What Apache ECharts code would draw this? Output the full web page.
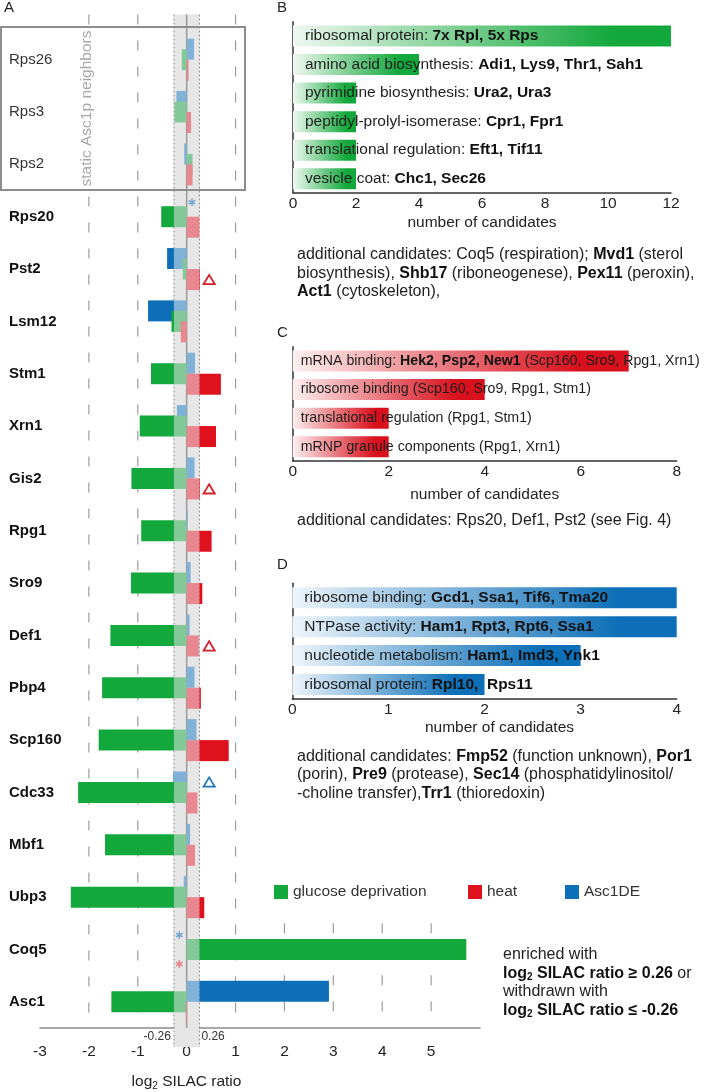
<!DOCTYPE html>
<html>
<head>
<meta charset="utf-8">
<title>Asc1p neighbours - SILAC ratios</title>
<script src="https://cdn.jsdelivr.net/npm/echarts@6.0.0/dist/echarts.min.js"></script>
<style>
  html, body { margin: 0; padding: 0; background: #fff; }
  #chart { width: 706px; height: 1092px; }
</style>
</head>
<body>
<div id="chart"></div>
<script>
// panel A: log2 SILAC ratio per protein, one lane per condition
var genes = ['Rps26', 'Rps3', 'Rps2', 'Rps20', 'Pst2', 'Lsm12', 'Stm1', 'Xrn1', 'Gis2', 'Rpg1',
  'Sro9', 'Def1', 'Pbp4', 'Scp160', 'Cdc33', 'Mbf1', 'Ubp3', 'Coq5', 'Asc1'];
var staticGenes = ['Rps26', 'Rps3', 'Rps2'];
var asc1deRatios = [0.15, -0.21, -0.05, null, -0.40, -0.79, 0.17, -0.20, 0.16, 0.02,
  0.08, 0.06, 0.16, 0.20, -0.27, 0.07, -0.06, null, 2.91];
var glucoseRatios = [-0.10, -0.25, 0.12, -0.52, -0.08, -0.31, -0.73, -0.96, -1.13, -0.93,
  -1.14, -1.56, -1.73, -1.80, -2.22, -1.67, -2.37, 5.72, -1.54];
var heatRatios = [0.04, 0.09, 0.12, 0.26, 0.27, -0.12, 0.70, 0.60, 0.27, 0.51,
  0.32, 0.25, 0.29, 0.86, 0.22, 0.17, 0.36, null, -0.02];
var threshold = 0.26;

// significance marks next to the bars
var triangleGenes = ['Pst2', 'Gis2', 'Def1', 'Cdc33'];
var triangleLanes = ['heat', 'heat', 'heat', 'Asc1DE'];
var triangleRatios = [0.46, 0.46, 0.46, 0.46];
var asteriskGenes = ['Rps20', 'Coq5', 'Coq5'];
var asteriskLanes = ['Asc1DE', 'Asc1DE', 'heat'];
var asteriskRatios = [0.11, -0.15, -0.15];

// dashed guides: the first ones run the whole height, the others only under the legend
var fullGridTicks = [-2, -1, 1];
var lowerGridTicks = [2, 3, 4, 5];

// panel B: glucose deprivation
var bCategories = ['ribosomal protein', 'amino acid biosynthesis', 'pyrimidine biosynthesis',
  'peptidyl-prolyl-isomerase', 'translational regulation', 'vesicle coat'];
var bGenes = ['7x Rpl, 5x Rps', 'Adi1, Lys9, Thr1, Sah1', 'Ura2, Ura3', 'Cpr1, Fpr1', 'Eft1, Tif11', 'Chc1, Sec26'];
var bCounts = [12, 4, 2, 2, 2, 2];

// panel C: heat
var cCategories = ['mRNA binding', 'ribosome binding', 'translational regulation', 'mRNP granule components'];
var cBold = ['Hek2, Psp2, New1', '', '', ''];
var cOther = ['(Scp160, Sro9, Rpg1, Xrn1)', '(Scp160, Sro9, Rpg1, Stm1)', '(Rpg1, Stm1)', '(Rpg1, Xrn1)'];
var cCounts = [7, 4, 2, 2];

// panel D: Asc1 deletion
var dCategories = ['ribosome binding', 'NTPase activity', 'nucleotide metabolism', 'ribosomal protein'];
var dGenes = ['Gcd1, Ssa1, Tif6, Tma20', 'Ham1, Rpt3, Rpt6, Ssa1', 'Ham1, Imd3, Ynk1', 'Rpl10,  Rps11'];
var dCounts = [4, 4, 3, 2];

var FONT = '"Liberation Sans", Arial, Helvetica, sans-serif';
var barWidth = 21;

var laneColors = {
  'Asc1DE': { full: '#0c6fb7', light: '#80b1d7', mark: '#2277c0', star: '#6fa5d2' },
  'glucose deprivation': { full: '#12a83b', light: '#83c897' },
  'heat': { full: '#df111d', light: '#e8878f', mark: '#d3222c', star: '#e8808a' }
};
var laneSide = { 'Asc1DE': -1, 'glucose deprivation': 0, 'heat': 1 };

function innerPart(v) {
  if (v == null) return null;
  return Math.max(-threshold, Math.min(threshold, v));
}
function outerPart(v) {
  if (v == null) return null;
  return v - innerPart(v);
}

function fade(pale, color) {
  return {
    type: 'linear', x: 0, y: 0, x2: 1, y2: 0,
    colorStops: [
      { offset: 0, color: pale },
      { offset: 0.85, color: color },
      { offset: 1, color: color }
    ]
  };
}

var labelRich = {
  n: { fontFamily: FONT, fontSize: 15.5, color: '#1e1e1e' },
  b: { fontFamily: FONT, fontSize: 15.5, fontWeight: 'bold', color: '#111' }
};
var labelRichSmall = {
  n: { fontFamily: FONT, fontSize: 14.2, color: '#1e1e1e' },
  b: { fontFamily: FONT, fontSize: 14.2, fontWeight: 'bold', color: '#111' }
};

var series = [];

// grey band |ratio| < threshold with the zero line
series.push({
  type: 'custom', xAxisIndex: 0, yAxisIndex: 0, z: 1, silent: true,
  data: [[threshold, 0]],
  renderItem: function (params, api) {
    var cs = params.coordSys;
    var t = api.value(0);
    var xl = api.coord([-t, 0])[0];
    var xr = api.coord([t, 0])[0];
    var x0 = api.coord([0, 0])[0];
    var top = cs.y - 19;
    var axisY = cs.y + cs.height;
    var bottom = axisY + 19;
    return {
      type: 'group',
      children: [
        { type: 'rect', shape: { x: xl, y: top, width: xr - xl, height: bottom - top }, style: { fill: '#e6e6e6' } },
        { type: 'line', shape: { x1: xl, y1: top, x2: xl, y2: bottom }, style: { stroke: '#8a8a8a', lineWidth: 1, lineDash: [2, 2] } },
        { type: 'line', shape: { x1: xr, y1: top, x2: xr, y2: bottom }, style: { stroke: '#8a8a8a', lineWidth: 1, lineDash: [2, 2] } },
        { type: 'line', shape: { x1: x0, y1: top, x2: x0, y2: axisY }, style: { stroke: '#9a9a9a', lineWidth: 1.5 } },
        { type: 'text', x: xl - 3, y: axisY + 9, style: { text: (-t).toFixed(2), align: 'right', verticalAlign: 'middle', fontSize: 12, fontFamily: FONT, fill: '#333' } },
        { type: 'text', x: xr + 2, y: axisY + 9, style: { text: t.toFixed(2), align: 'left', verticalAlign: 'middle', fontSize: 12, fontFamily: FONT, fill: '#333' } }
      ]
    };
  }
});

// dashed guide lines
series.push({
  type: 'custom', xAxisIndex: 0, yAxisIndex: 0, z: 1, silent: true,
  data: fullGridTicks.map(function (v) { return [v, 0, 1]; })
    .concat(lowerGridTicks.map(function (v) { return [v, 0, 0]; })),
  renderItem: function (params, api) {
    var cs = params.coordSys;
    var x = api.coord([api.value(0), 0])[0];
    var top = cs.y - 19;
    if (!api.value(2)) {
      top = api.coord([api.value(0), genes.indexOf('Coq5')])[1] - api.size([0, 1])[1] / 2;
    }
    return {
      type: 'line',
      shape: { x1: x, y1: top, x2: x, y2: cs.y + cs.height },
      style: { stroke: '#9c9c9c', lineWidth: 1.2, lineDash: [10, 16] }
    };
  }
});

// bars: light part inside the band, full colour beyond it
var lanes = [
  { name: 'Asc1DE', values: asc1deRatios },
  { name: 'glucose deprivation', values: glucoseRatios },
  { name: 'heat', values: heatRatios }
];
lanes.forEach(function (lane, i) {
  var c = laneColors[lane.name];
  series.push({
    type: 'bar', name: lane.name + ' (inside band)', xAxisIndex: 0, yAxisIndex: 0,
    stack: 'lane' + i, barWidth: barWidth, barGap: '-50%', z: 2 + i,
    itemStyle: { color: c.light },
    data: lane.values.map(innerPart)
  });
  series.push({
    type: 'bar', name: lane.name, xAxisIndex: 0, yAxisIndex: 0,
    stack: 'lane' + i, barWidth: barWidth, barGap: '-50%', z: 2 + i,
    itemStyle: { color: c.full },
    data: lane.values.map(outerPart)
  });
});

// hollow triangles
series.push({
  type: 'custom', xAxisIndex: 0, yAxisIndex: 0, z: 8, silent: true,
  data: triangleGenes.map(function (g, i) {
    return [triangleRatios[i], genes.indexOf(g), laneSide[triangleLanes[i]]];
  }),
  renderItem: function (params, api) {
    var p = api.coord([api.value(0), api.value(1)]);
    var side = api.value(2);
    var cy = p[1] + side * barWidth / 2;
    var color = side < 0 ? laneColors['Asc1DE'].mark : laneColors['heat'].mark;
    return {
      type: 'polygon',
      shape: { points: [[p[0], cy - 4.6], [p[0] + 5.6, cy + 4.6], [p[0] - 5.6, cy + 4.6]] },
      style: { fill: 'none', stroke: color, lineWidth: 1.8 }
    };
  }
});

// asterisks for missing values
series.push({
  type: 'custom', xAxisIndex: 0, yAxisIndex: 0, z: 8, silent: true,
  data: asteriskGenes.map(function (g, i) {
    return [asteriskRatios[i], genes.indexOf(g), laneSide[asteriskLanes[i]]];
  }),
  renderItem: function (params, api) {
    var p = api.coord([api.value(0), api.value(1)]);
    var side = api.value(2);
    var cy = p[1] + side * (barWidth / 2 + 4);
    var color = side < 0 ? laneColors['Asc1DE'].star : laneColors['heat'].star;
    var r = 3.8;
    var kids = [0, 60, 120].map(function (deg) {
      var a = deg * Math.PI / 180;
      return {
        type: 'line',
        shape: { x1: p[0] - r * Math.sin(a), y1: cy - r * Math.cos(a), x2: p[0] + r * Math.sin(a), y2: cy + r * Math.cos(a) },
        style: { stroke: color, lineWidth: 1.5 }
      };
    });
    return { type: 'group', children: kids };
  }
});

// panel B
series.push({
  type: 'bar', name: 'B', xAxisIndex: 1, yAxisIndex: 1, barWidth: barWidth,
  data: bCounts,
  itemStyle: { color: fade('#eef8f0', '#12a83b') },
  label: {
    show: true, position: 'insideLeft', distance: 12, color: '#1e1e1e', rich: labelRich,
    formatter: function (p) { return '{n|' + bCategories[p.dataIndex] + ': }{b|' + bGenes[p.dataIndex] + '}'; }
  }
});

// panel C
series.push({
  type: 'bar', name: 'C', xAxisIndex: 2, yAxisIndex: 2, barWidth: barWidth,
  data: cCounts,
  itemStyle: { color: fade('#fdf0f0', '#d8111d') },
  label: {
    show: true, position: 'insideLeft', distance: 8, color: '#1e1e1e', rich: labelRichSmall,
    formatter: function (p) {
      var i = p.dataIndex;
      if (cBold[i]) {
        return '{n|' + cCategories[i] + ': }{b|' + cBold[i] + '}{n| ' + cOther[i] + '}';
      }
      return '{n|' + cCategories[i] + ' ' + cOther[i] + '}';
    }
  }
});

// panel D
series.push({
  type: 'bar', name: 'D', xAxisIndex: 3, yAxisIndex: 3, barWidth: barWidth,
  data: dCounts,
  itemStyle: { color: fade('#eef5fb', '#0c6fb7') },
  label: {
    show: true, position: 'insideLeft', distance: 12, color: '#1e1e1e', rich: labelRich,
    formatter: function (p) { return '{n|' + dCategories[p.dataIndex] + ': }{b|' + dGenes[p.dataIndex] + '}'; }
  }
});

function countAxis(gridIndex, max, interval, nameGap, nameShift) {
  return {
    gridIndex: gridIndex, type: 'value', min: 0, max: max, interval: interval,
    axisLine: { show: true, lineStyle: { color: '#333', width: 1.5 } },
    axisTick: { show: false }, splitLine: { show: false },
    axisLabel: { fontSize: 15.5, color: '#222', fontFamily: FONT, margin: 3 },
    name: 'number of candidates', nameLocation: 'middle', nameGap: nameGap,
    nameTextStyle: { fontSize: 15.5, color: '#222', fontFamily: FONT, padding: [0, 0, 0, nameShift || 0] }
  };
}
function termAxis(gridIndex, cats) {
  return {
    gridIndex: gridIndex, type: 'category', data: cats, inverse: true,
    axisLine: { show: true, lineStyle: { color: '#333', width: 1.5 } },
    axisTick: { show: false }, axisLabel: { show: false }, splitLine: { show: false }
  };
}

var textRich = {
  n: { fontFamily: FONT, fontSize: 16, lineHeight: 18.5, fill: '#222' },
  b: { fontFamily: FONT, fontSize: 16, lineHeight: 18.5, fontWeight: 'bold', fill: '#111' },
  s: { fontFamily: FONT, fontSize: 10, lineHeight: 12, fontWeight: 'bold', fill: '#111', verticalAlign: 'bottom' }
};

function letter(ch, x, y) {
  return { type: 'text', x: x, y: y, z: 10, style: { text: ch, fontFamily: FONT, fontSize: 15, fill: '#222', verticalAlign: 'top' } };
}
function block(text, x, y) {
  return { type: 'text', x: x, y: y, z: 10, style: { text: text, rich: textRich, verticalAlign: 'top', align: 'left' } };
}

var option = {
  animation: false,
  grid: [
    { left: 40, top: 33.5, width: 440, height: 994.5, outerBoundsMode: 'none' },
    { left: 293, top: 21.7, width: 378, height: 171.3, outerBoundsMode: 'none' },
    { left: 292.7, top: 346.7, width: 384, height: 114.3, outerBoundsMode: 'none' },
    { left: 292.3, top: 583.3, width: 384.4, height: 115.7, outerBoundsMode: 'none' }
  ],
  xAxis: [
    {
      gridIndex: 0, type: 'value', min: -3, max: 6, interval: 1,
      axisLine: { show: true, lineStyle: { color: '#8c8c8c', width: 1.5 } },
      axisTick: { show: false }, splitLine: { show: false },
      axisLabel: { fontSize: 15.5, color: '#222', fontFamily: FONT, margin: 16, showMaxLabel: false }
    },
    countAxis(1, 12, 2, 22),
    countAxis(2, 8, 2, 26),
    countAxis(3, 4, 1, 21, 30)
  ],
  yAxis: [
    {
      gridIndex: 0, type: 'category', data: genes, inverse: true,
      axisLine: { show: false }, axisTick: { show: false }, splitLine: { show: false },
      axisLabel: {
        interval: 0, align: 'left', margin: 31,
        formatter: function (v) {
          return staticGenes.indexOf(v) >= 0 ? '{n|' + v + '}' : '{b|' + v + '}';
        },
        rich: {
          n: { fontFamily: FONT, fontSize: 15, color: '#333' },
          b: { fontFamily: FONT, fontSize: 15, fontWeight: 'bold', color: '#111' }
        }
      }
    },
    termAxis(1, bCategories),
    termAxis(2, cCategories),
    termAxis(3, dCategories)
  ],
  legend: [
    { name: 'glucose deprivation', left: 274 },
    { name: 'heat', left: 468 },
    { name: 'Asc1DE', left: 565 }
  ].map(function (l) {
    return {
      data: [l.name], left: l.left, top: 884, padding: 0, icon: 'rect',
      itemWidth: 14, itemHeight: 14, selectedMode: false,
      textStyle: { fontSize: 15.5, color: '#333', fontFamily: FONT }
    };
  }),
  graphic: [
    letter('A', 4, 0),
    letter('B', 277, 0),
    letter('C', 277, 325),
    letter('D', 277, 557),
    {
      type: 'rect', z: 10, shape: { x: 1, y: 27, width: 244, height: 163 },
      style: { fill: 'none', stroke: '#8d8d8d', lineWidth: 2 }
    },
    {
      type: 'text', x: 87, y: 108.5, rotation: Math.PI / 2, z: 10,
      style: {
        text: 'static Asc1p neighbors', fontFamily: FONT, fontSize: 15.5, fill: '#a8a8a8',
        align: 'center', verticalAlign: 'middle', backgroundColor: '#fff', padding: [0, 1]
      }
    },
    {
      type: 'text', x: 186.5, y: 1082, z: 10,
      style: {
        text: '{n|log}{s|2}{n| SILAC ratio}', align: 'center', verticalAlign: 'middle',
        rich: {
          n: { fontFamily: FONT, fontSize: 15.5, lineHeight: 18, fill: '#222' },
          s: { fontFamily: FONT, fontSize: 10, lineHeight: 11, fill: '#222', verticalAlign: 'bottom' }
        }
      }
    },
    block('{n|additional candidates: Coq5 (respiration); }{b|Mvd1}{n| (sterol}\n' +
      '{n|biosynthesis), }{b|Shb17}{n| (riboneogenese), }{b|Pex11}{n| (peroxin),}\n' +
      '{b|Act1}{n| (cytoskeleton),}', 297, 245.5),
    block('{n|additional candidates: Rps20, Def1, Pst2 (see Fig. 4)}', 297, 511.5),
    block('{n|additional candidates: }{b|Fmp52}{n| (function unknown), }{b|Por1}\n' +
      '{n|(porin), }{b|Pre9}{n| (protease), }{b|Sec14}{n| (phosphatidylinositol/}\n' +
      '{n|-choline transfer),}{b|Trr1}{n| (thioredoxin)}', 297, 747),
    block('{n|enriched with}\n' +
      '{b|log}{s|2}{b| SILAC ratio \u2265 ' + threshold + '}{n| or}\n' +
      '{n|withdrawn with}\n' +
      '{b|log}{s|2}{b| SILAC ratio \u2264 -' + threshold + '}', 503, 945.5)
  ],
  series: series
};

var chart = echarts.init(document.getElementById('chart'));
chart.setOption(option);
</script>
</body>
</html>
